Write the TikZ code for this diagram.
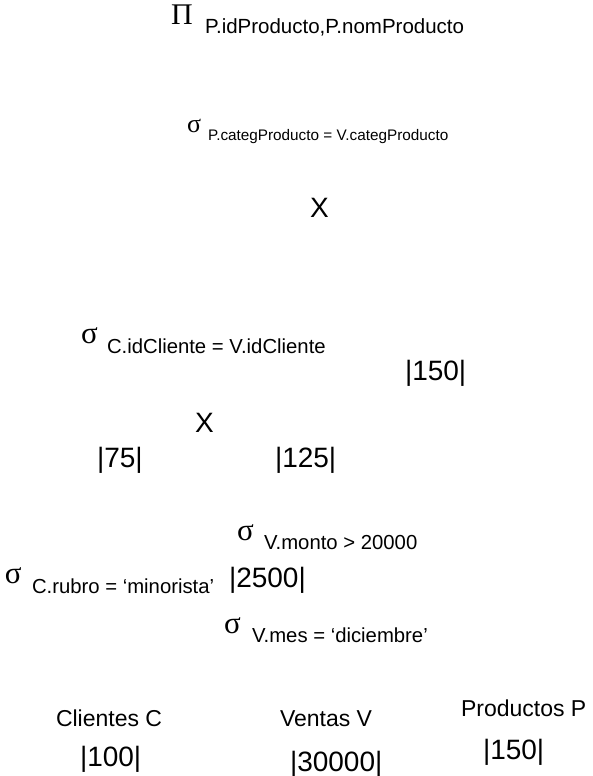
\documentclass[tikz,border=0pt]{standalone}
\usepackage{fontspec}
\setmainfont{Liberation Sans}
\newfontfamily\serifg{Liberation Serif}
\begin{document}
\begin{tikzpicture}[x=1pt,y=-1pt,
  every node/.style={inner sep=0pt,outer sep=0pt,anchor=base west},
  op/.style={font=\serifg\fontsize{#1}{#1}\selectfont},
  sub/.style={font=\fontsize{#1}{#1}\selectfont},
  big/.style={font=\fontsize{28}{28}\selectfont},
  lbl/.style={font=\fontsize{23}{23}\selectfont}]
\useasboundingbox (0,0) rectangle (592,776);
% projection
\node[op=30] (pi) at (171,25) {Π};
\node[sub=20.5] (pisub) at (205,34) {P.idProducto,P.nomProducto};
% selection categ
\node[op=26] (s2) at (187,132) {σ};
\node[sub=15.3] (s2sub) at (208,140) {P.categProducto = V.categProducto};
% cross product 1
\node[big] (x1) at (310,217) {X};
% selection idCliente
\node[op=31] (s3) at (81,343) {σ};
\node[sub=20.3] (s3sub) at (107,353) {C.idCliente = V.idCliente};
\node[big] (n150a) at (405,380) {|150|};
% cross product 2
\node[big] (x2) at (195,432) {X};
\node[big] (n75) at (97,467) {|75|};
\node[big] (n125) at (275,467) {|125|};
% selections
\node[op=31] (s4) at (237,540) {σ};
\node[sub=20.3] (s4sub) at (264,549) {V.monto > 20000};
\node[op=31] (s5) at (5,583) {σ};
\node[sub=20.3] (s5sub) at (32,593) {C.rubro = ‘minorista’};
\node[big] (n2500) at (229,587) {|2500|};
\node[op=31] (s6) at (224,633) {σ};
\node[sub=20.3] (s6sub) at (252,642) {V.mes = ‘diciembre’};
% relations
\node[lbl] (cli) at (56,726) {Clientes C};
\node[lbl] (ven) at (280,726) {Ventas V};
\node[lbl] (pro) at (461,716) {Productos P};
\node[big] (n100) at (80,766) {|100|};
\node[big] (n30000) at (290,771) {|30000|};
\node[big] (n150b) at (483,759) {|150|};
\end{tikzpicture}
\end{document}
